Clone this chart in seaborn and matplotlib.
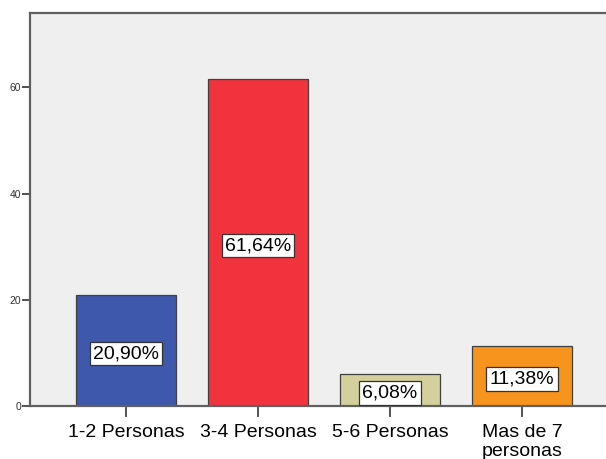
import pandas as pd
import seaborn as sns
import matplotlib.pyplot as plt

categories = ['1-2 Personas', '3-4 Personas', '5-6 Personas', 'Mas de 7\npersonas']
percentages = [20.90, 61.64, 6.08, 11.38]
bar_labels = ['20,90%', '61,64%', '6,08%', '11,38%']
bar_colors = ['#3e58ab', '#f1333d', '#d4d09b', '#f7941e']
y_ticks = [0, 20, 40, 60]


def main():
    sns.set_style('white')
    plt.rcParams['font.family'] = ['Liberation Sans', 'DejaVu Sans']

    df = pd.DataFrame({'grupo': categories, 'pct': percentages})

    fig = plt.figure(figsize=(6.06, 4.59), dpi=100)
    ax = fig.add_axes([30 / 606, 53 / 459, 576 / 606, 393 / 459])
    ax.set_facecolor('#efefef')

    sns.barplot(data=df, x='grupo', y='pct', hue='grupo', palette=bar_colors,
                legend=False, width=0.754, edgecolor='#404040', linewidth=0.9,
                saturation=1, ax=ax)

    for i, (val, lab) in enumerate(zip(percentages, bar_labels)):
        ax.text(i, val / 2 - 0.6, lab, ha='center', va='center', fontsize=14,
                color='black',
                bbox=dict(boxstyle='square,pad=0.17', facecolor='white',
                          edgecolor='#333333', linewidth=0.9))

    ax.set_xlim(-0.727, 3.636)
    ax.set_ylim(0, 74)
    ax.set_yticks(y_ticks)
    ax.set_xlabel('')
    ax.set_ylabel('')

    for side in ['left', 'top', 'bottom']:
        ax.spines[side].set_color('#606060')
        ax.spines[side].set_linewidth(1.6)
    ax.spines['right'].set_visible(False)

    ax.tick_params(axis='y', direction='out', length=6, width=1.2,
                   colors='#333333', labelsize=7.5, pad=0.5, left=True)
    ax.tick_params(axis='x', direction='out', length=8, width=1.2,
                   colors='#333333', labelsize=14, pad=5, bottom=True)
    for t in ax.get_xticklabels():
        t.set_color('black')
        t.set_linespacing(1.15)

    fig.savefig('out.png', dpi=100)


if __name__ == '__main__':
    main()
